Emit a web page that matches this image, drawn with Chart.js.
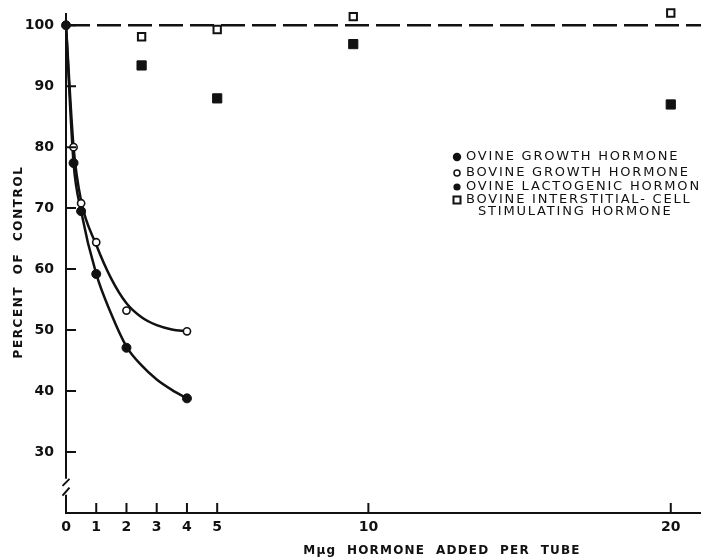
<!DOCTYPE html>
<html>
<head>
<meta charset="utf-8">
<script src="https://cdn.jsdelivr.net/npm/chart.js@4.4.1/dist/chart.umd.min.js"></script>
<style>
  html, body { margin: 0; padding: 0; background: #fff; overflow: hidden; }
  #wrap { width: 701px; height: 557px; position: relative; }
</style>
</head>
<body>
<div id="wrap"><canvas id="hormoneChart"></canvas></div>
<script>
// axis ticks
const xTicks = [0, 1, 2, 3, 4, 5, 10, 20];
const yTicks = [30, 40, 50, 60, 70, 80, 90, 100];

// measured points
const ovineGH_x = [0, 0.25, 0.5, 1, 2, 4];
const ovineGH_y = [100, 77.4, 69.5, 59.2, 47.1, 38.8];
const bovineGH_x = [0.25, 0.5, 1, 2, 4];
const bovineGH_y = [80, 70.8, 64.4, 53.2, 49.8];
const ovineLH_x = [2.5, 5, 9.5, 20];
const ovineLH_y = [93.4, 88, 96.9, 87];
const icsh_x = [2.5, 5, 9.5, 20];
const icsh_y = [98.1, 99.3, 101.4, 102];

// hand-drawn curves
const curve_x = [0, 0.25, 0.5, 1, 1.5, 2, 2.5, 3, 3.5, 4];
const ovineCurve_y = [100, 77.4, 69.5, 59.2, 52.6, 47.3, 44.2, 41.9, 40.2, 38.8];
const bovineCurve_y = [100, 80, 71.2, 64.0, 58.4, 54.4, 52.1, 50.8, 50.1, 49.8];

// control level
const control_x = [0, 21];
const control_y = [100, 100];

const legendLabels = [
  ["OVINE GROWTH HORMONE"],
  ["BOVINE GROWTH HORMONE"],
  ["OVINE LACTOGENIC HORMONE"],
  ["BOVINE INTERSTITIAL- CELL", "STIMULATING HORMONE"]
];

function pts(xs, ys) {
  return xs.map(function(x, i) { return { x: x, y: ys[i] }; });
}

const INK = "#111";
const FONT = "'DejaVu Sans', sans-serif";

// draws text with extra letter spacing
function spacedText(ctx, text, x, y, spacing, align) {
  ctx.save();
  ctx.letterSpacing = spacing + "px";
  ctx.textAlign = align || "left";
  ctx.fillText(text, x, y);
  ctx.restore();
}

const decorations = {
  id: "decorations",
  afterDraw: function(chart) {
    const ctx = chart.ctx;
    const xs = chart.scales.x;
    const ys = chart.scales.y;
    const area = chart.chartArea;
    const x0 = xs.getPixelForValue(0);

    ctx.save();
    ctx.strokeStyle = INK;
    ctx.fillStyle = INK;
    ctx.lineWidth = 2;
    ctx.lineCap = "butt";

    // y axis with break
    const bTop = ys.getPixelForValue(25.6);
    const bBot = ys.getPixelForValue(23.0);
    ctx.beginPath();
    ctx.moveTo(x0, area.top);
    ctx.lineTo(x0, bTop);
    ctx.moveTo(x0 - 3.5, bTop + 7);
    ctx.lineTo(x0 + 3.5, bTop);
    ctx.moveTo(x0 - 3.5, bBot + 1);
    ctx.lineTo(x0 + 3.5, bBot - 7);
    ctx.moveTo(x0, bBot);
    ctx.lineTo(x0, area.bottom);
    ctx.stroke();

    // inward tick marks
    ctx.beginPath();
    yTicks.forEach(function(v) {
      const py = ys.getPixelForValue(v);
      ctx.moveTo(x0, py);
      ctx.lineTo(x0 + 10, py);
    });
    xTicks.forEach(function(v) {
      if (v === 0) return;
      const px = xs.getPixelForValue(v);
      ctx.moveTo(px, area.bottom);
      ctx.lineTo(px, area.bottom - 10);
    });
    ctx.stroke();

    // axis titles
    ctx.font = "bold 12px " + FONT;
    ctx.textBaseline = "middle";
    spacedText(ctx, "M\u03BCg  HORMONE  ADDED  PER  TUBE", 442, 551, 1.2, "center");
    ctx.save();
    ctx.translate(19, 262);
    ctx.rotate(-Math.PI / 2);
    spacedText(ctx, "PERCENT  OF  CONTROL", 0, 0, 1.6, "center");
    ctx.restore();

    // legend
    const lx = 457;
    const rows = [157, 173, 187, 200];
    ctx.font = "13px " + FONT;
    legendLabels.forEach(function(lines, i) {
      const ry = rows[i];
      ctx.lineWidth = 1.5;
      ctx.beginPath();
      if (i === 0) {
        ctx.arc(lx, ry, 4.2, 0, Math.PI * 2);
        ctx.fill();
      } else if (i === 1) {
        ctx.arc(lx, ry, 3, 0, Math.PI * 2);
        ctx.stroke();
      } else if (i === 2) {
        ctx.arc(lx, ry, 3.6, 0, Math.PI * 2);
        ctx.fill();
      } else {
        ctx.lineWidth = 2;
        ctx.strokeRect(lx - 3.5, ry - 3.5, 7, 7);
      }
      spacedText(ctx, lines[0], lx + 9, ry, 1.8, "left");
      if (lines[1]) spacedText(ctx, lines[1], lx + 21, ry + 12, 1.8, "left");
    });
    ctx.restore();
  }
};

const ctx = document.getElementById("hormoneChart").getContext("2d");
const chart = new Chart(ctx, {
  type: "scatter",
  data: {
    datasets: [
      {
        label: "Ovine growth hormone",
        data: pts(ovineGH_x, ovineGH_y),
        pointStyle: "circle",
        pointRadius: 4.5,
        backgroundColor: INK,
        borderColor: INK,
        borderWidth: 1,
        clip: false
      },
      {
        label: "Bovine growth hormone",
        data: pts(bovineGH_x, bovineGH_y),
        pointStyle: "circle",
        pointRadius: 3.6,
        backgroundColor: "#fff",
        borderColor: INK,
        borderWidth: 1.6,
        clip: false
      },
      {
        label: "Ovine lactogenic hormone",
        data: pts(ovineLH_x, ovineLH_y),
        pointStyle: "rect",
        pointRadius: 6.5,
        backgroundColor: INK,
        borderColor: INK,
        borderWidth: 1,
        clip: false
      },
      {
        label: "Bovine ICSH",
        data: pts(icsh_x, icsh_y),
        pointStyle: "rect",
        pointRadius: 5.2,
        backgroundColor: "#fff",
        borderColor: INK,
        borderWidth: 2,
        clip: false
      },
      {
        label: "ovine curve",
        data: pts(curve_x, ovineCurve_y),
        showLine: true,
        pointRadius: 0,
        borderColor: INK,
        borderWidth: 2.5,
        cubicInterpolationMode: "monotone",
        clip: false
      },
      {
        label: "bovine curve",
        data: pts(curve_x, bovineCurve_y),
        showLine: true,
        pointRadius: 0,
        borderColor: INK,
        borderWidth: 2.5,
        cubicInterpolationMode: "monotone",
        clip: false
      },
      {
        label: "control",
        data: pts(control_x, control_y),
        showLine: true,
        pointRadius: 0,
        borderColor: INK,
        borderWidth: 2.5,
        borderDash: [24, 7],
        clip: false
      }
    ]
  },
  options: {
    responsive: true,
    maintainAspectRatio: false,
    animation: false,
    layout: {
      autoPadding: false,
      padding: { top: 13, right: 0, left: 0, bottom: 0 }
    },
    scales: {
      x: {
        type: "linear",
        min: 0,
        max: 21,
        afterBuildTicks: function(scale) {
          scale.ticks = xTicks.map(function(v) { return { value: v }; });
        },
        afterFit: function(scale) { scale.height = 44; },
        // transparent tick marks only reserve room above the labels
        grid: {
          display: true,
          drawOnChartArea: false,
          drawTicks: true,
          tickLength: 6,
          tickColor: "rgba(0,0,0,0)"
        },
        border: { display: true, color: INK, width: 2 },
        ticks: {
          padding: 0,
          color: INK,
          maxRotation: 0,
          autoSkip: false,
          font: { family: FONT, size: 14, weight: "bold" }
        }
      },
      y: {
        type: "linear",
        min: 20,
        max: 102,
        afterBuildTicks: function(scale) {
          scale.ticks = yTicks.map(function(v) { return { value: v }; });
        },
        afterFit: function(scale) { scale.width = 66; },
        grid: { display: false },
        border: { display: false },
        ticks: {
          padding: 4,
          color: INK,
          autoSkip: false,
          font: { family: FONT, size: 14, weight: "bold" }
        }
      }
    },
    plugins: {
      legend: { display: false },
      tooltip: { enabled: false }
    }
  },
  plugins: [decorations]
});
</script>
</body>
</html>
